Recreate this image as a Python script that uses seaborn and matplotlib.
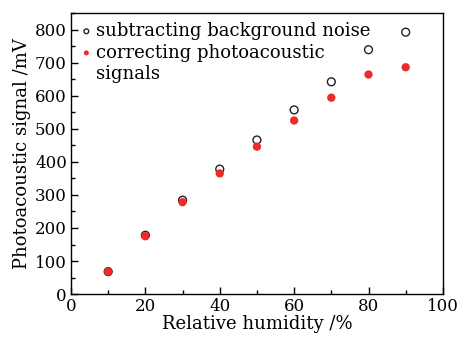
import matplotlib
matplotlib.use("Agg")
import matplotlib.pyplot as plt
import seaborn as sns
import pandas as pd
from matplotlib.ticker import MultipleLocator
from matplotlib.lines import Line2D

humidity = [10, 20, 30, 40, 50, 60, 70, 80, 90]
subtracting = [68, 178, 284, 378, 466, 557, 642, 739, 792]
correcting = [68, 175, 278, 365, 446, 525, 594, 664, 686]
label_sub = "subtracting background noise"
label_cor = "correcting photoacoustic"
label_cor2 = "signals"
xlabel = "Relative humidity /%"
ylabel = "Photoacoustic signal /mV"

sns.set_theme(style="ticks")
plt.rcParams["font.family"] = ["DejaVu Serif"]
plt.rcParams["text.color"] = "black"
plt.rcParams["axes.labelcolor"] = "black"
plt.rcParams["xtick.color"] = "black"
plt.rcParams["ytick.color"] = "black"

fig = plt.figure(figsize=(4.58, 3.42), dpi=100)
ax = fig.add_axes([0.155, 0.140, 0.812, 0.822])

df_s = pd.DataFrame({"x": humidity, "y": subtracting})
df_c = pd.DataFrame({"x": humidity, "y": correcting})

sns.scatterplot(data=df_s, x="x", y="y", ax=ax, s=32, marker="o",
                facecolor="none", edgecolor="#222222", linewidth=1.0,
                label=label_sub, zorder=2)
sns.scatterplot(data=df_c, x="x", y="y", ax=ax, s=36, marker="o",
                color="#ee2a2a", edgecolor="none", linewidth=0,
                label=label_cor, zorder=3)

ax.set_xlim(0, 100)
ax.set_ylim(0, 850)
ax.xaxis.set_major_locator(MultipleLocator(20))
ax.xaxis.set_minor_locator(MultipleLocator(10))
ax.yaxis.set_major_locator(MultipleLocator(100))
ax.yaxis.set_minor_locator(MultipleLocator(50))
ax.tick_params(which="both", direction="in", top=False, right=False, labelsize=12,
               width=1.0, color="black", labelcolor="black", pad=3)
ax.tick_params(which="major", length=5)
ax.tick_params(which="minor", length=3)
for sp in ax.spines.values():
    sp.set_linewidth(1.0)
    sp.set_color("black")

ax.set_xlabel(xlabel, fontsize=13, labelpad=0, color="black")
ax.set_ylabel(ylabel, fontsize=13, labelpad=3, color="black")

handles, labels = ax.get_legend_handles_labels()
handles.append(Line2D([], [], linestyle="none", marker=None))
labels.append(label_cor2)
leg = ax.legend(handles, labels, loc="upper left", frameon=False, fontsize=13,
                handletextpad=0.2, borderaxespad=0.2, labelspacing=0.2,
                markerscale=0.6, handlelength=0.7, borderpad=0.3)
for t in leg.get_texts():
    t.set_color("black")

fig.savefig("out.png", dpi=100)
